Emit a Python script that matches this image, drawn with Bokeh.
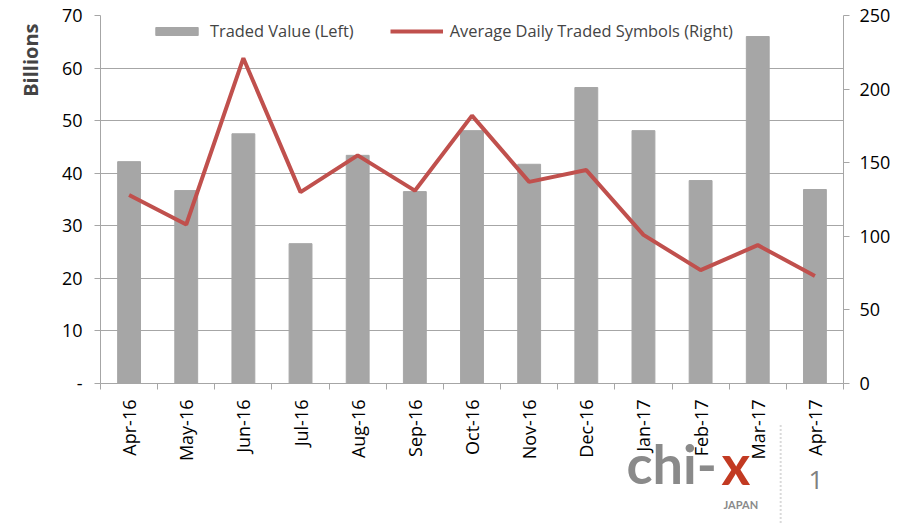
import numpy as np
from bokeh.plotting import figure
from bokeh.layouts import column
from bokeh.models import (Range1d, LinearAxis, FixedTicker, Label, Legend, LegendItem,
                          ColumnDataSource, Title)
from bokeh.embed import file_html
from bokeh.resources import INLINE

months = ["Apr-16", "May-16", "Jun-16", "Jul-16", "Aug-16", "Sep-16", "Oct-16",
          "Nov-16", "Dec-16", "Jan-17", "Feb-17", "Mar-17", "Apr-17"]
traded_value = [42.2, 36.7, 47.5, 26.6, 43.4, 36.5, 48.1, 41.7, 56.3, 48.1, 38.6, 66.0, 36.9]
avg_symbols = [128, 108, 221, 130, 155, 131, 182, 137, 145, 101, 77, 94, 73]
left_ticks = [0, 10, 20, 30, 40, 50, 60, 70]
right_ticks = [0, 50, 100, 150, 200, 250]

FONT = "Open Sans"
AX = "#a6a6a6"

xs = np.arange(len(months)) + 0.5
src = ColumnDataSource(dict(x=xs, v=traded_value, s=avg_symbols))

p = figure(width=900, height=524, output_backend="svg", toolbar_location=None,
           x_range=Range1d(0, len(months)), y_range=Range1d(0, 70),
           min_border_left=98, min_border_right=57, min_border_top=15, min_border_bottom=141)
p.outline_line_color = None
p.background_fill_color = "white"
p.extra_y_ranges = {"right": Range1d(0, 250)}

bars = p.vbar(x="x", top="v", width=0.4, color="#a6a6a6", source=src)
line = p.line(x="x", y="s", line_color="#c0504d", line_width=4, y_range_name="right", source=src)

# x axis
xa = p.xaxis[0]
xa.ticker = FixedTicker(ticks=list(xs), minor_ticks=list(range(len(months) + 1)))
xa.major_label_overrides = {float(x): m for x, m in zip(xs, months)}
xa.major_label_orientation = np.pi / 2
xa.major_tick_out = 0
xa.major_tick_in = 0
xa.minor_tick_out = 6
xa.minor_tick_in = 0
xa.minor_tick_line_color = AX
xa.axis_line_color = AX
xa.major_label_text_font = FONT
xa.major_label_text_font_size = "18px"
xa.major_label_text_color = "black"
xa.major_label_standoff = 10

# left axis
ya = p.yaxis[0]
ya.ticker = FixedTicker(ticks=left_ticks)
ya.major_label_overrides = {0: "-"}
ya.axis_line_color = AX
ya.major_tick_line_color = AX
ya.major_tick_out = 6
ya.major_tick_in = 0
ya.minor_tick_line_color = None
ya.major_label_text_font = FONT
ya.major_label_text_font_size = "18px"
ya.major_label_text_color = "black"
ya.major_label_standoff = 12

# right axis
ra = LinearAxis(y_range_name="right", ticker=FixedTicker(ticks=right_ticks))
ra.axis_line_color = AX
ra.major_tick_line_color = AX
ra.major_tick_out = 6
ra.major_tick_in = 0
ra.minor_tick_line_color = None
ra.major_label_text_font = FONT
ra.major_label_text_font_size = "18px"
ra.major_label_text_color = "black"
ra.major_label_standoff = 10
p.add_layout(ra, "right")

p.xgrid.grid_line_color = None
p.ygrid.ticker = FixedTicker(ticks=left_ticks)
p.ygrid.grid_line_color = AX
p.ygrid.grid_line_width = 1

legend = Legend(items=[LegendItem(label="Traded Value (Left)", renderers=[bars]),
                       LegendItem(label="Average Daily Traded Symbols (Right)", renderers=[line])],
                orientation="horizontal", location=(50, 341),
                border_line_color=None, background_fill_alpha=0,
                label_text_font=FONT, label_text_font_size="16.4px",
                glyph_width=53, glyph_height=10, spacing=36, padding=2, margin=0,
                label_standoff=7)
p.add_layout(legend, "center")

p.add_layout(Title(text="Billions", align="right", text_font=FONT, text_font_style="bold",
                   text_font_size="20px", standoff=29, offset=8), "left")

# logo overlay (transparent figure laid over the bottom of the chart;
# its frame is aligned with the chart frame, x from 98 to 843 on the page)
logo = figure(width=900, height=100, output_backend="svg", toolbar_location=None,
              x_range=Range1d(98, 843), y_range=Range1d(0, 100),
              min_border=0, margin=(-100, 0, 0, 0))
logo.axis.visible = False
logo.grid.visible = False
logo.outline_line_color = None
logo.background_fill_alpha = 0
logo.border_fill_alpha = 0
OX = 98
logo.add_layout(Label(x=624 - OX, y=61, x_units="screen", y_units="screen", text="chi-",
                      text_font="Lato", text_font_style="bold", text_font_size="54px",
                      text_color="#8a8a8a", text_baseline="alphabetic"))
logo.add_layout(Label(x=719 - OX, y=61, x_units="screen", y_units="screen", text="x",
                      text_font="Lato", text_font_style="bold", text_font_size="55px",
                      text_color="#c23a22", text_baseline="alphabetic"))
logo.add_layout(Label(x=721 - OX, y=20, x_units="screen", y_units="screen", text="JAPAN",
                      text_font="Lato", text_font_style="bold", text_font_size="11px",
                      text_color="#8a8a8a", text_baseline="alphabetic"))
logo.add_layout(Label(x=806 - OX, y=45, x_units="screen", y_units="screen", text="1",
                      text_font=FONT, text_font_size="26px", text_color="#808080",
                      text_baseline="alphabetic"))
logo.segment(x0=[780], y0=[2], x1=[780], y1=[99], line_color="#b4b4b4",
             line_width=2, line_dash="1 3")

layout = column(p, logo, spacing=0)
open("out.html", "w").write(file_html(layout, INLINE))
